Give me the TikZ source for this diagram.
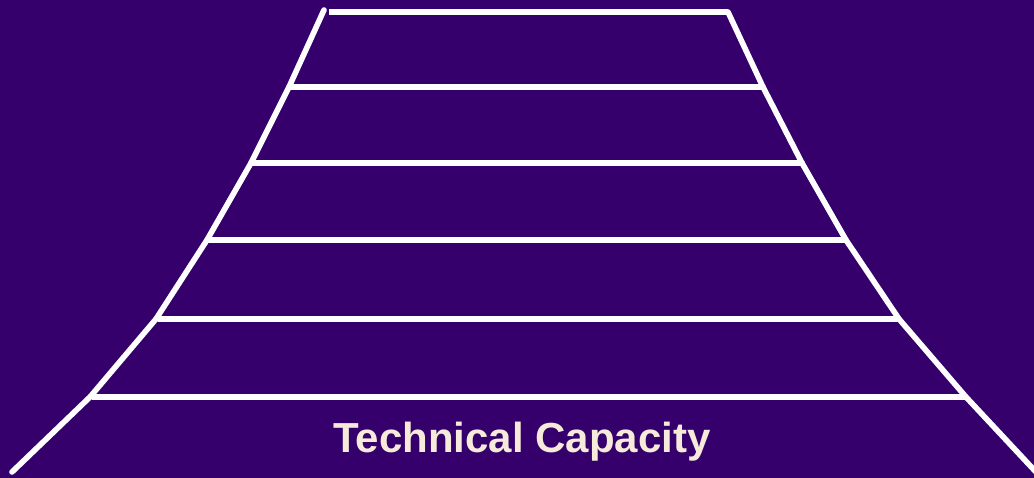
\documentclass[tikz,border=0pt]{standalone}
\usepackage{fontspec}
\setmainfont{Liberation Sans}
\definecolor{bgpurple}{RGB}{53,0,107}
\definecolor{cream}{RGB}{246,235,218}
\begin{document}
\begin{tikzpicture}[x=1pt,y=-1pt,
  edge/.style={draw=white,line width=5.6pt,line cap=round},
  rung/.style={draw=white,line width=5.6pt}]
\fill[bgpurple] (0,0) rectangle (1034,478);
\useasboundingbox (0,0) rectangle (1034,478);
% left corners
\coordinate (L0) at (324,10);
\coordinate (L1) at (289,87);
\coordinate (L2) at (251,163);
\coordinate (L3) at (207,240);
\coordinate (L4) at (156,319);
\coordinate (L5) at (90,397);
\coordinate (L6) at (12,472);
% right corners
\coordinate (R0) at (728,12);
\coordinate (R1) at (763,87);
\coordinate (R2) at (802,163);
\coordinate (R3) at (846,240);
\coordinate (R4) at (899,319);
\coordinate (R5) at (966,397);
\coordinate (R6) at (1036,472);
% rungs
\coordinate (T0) at (329,12);
\draw[rung] (T0) -- (R0);
\draw[rung] (L1) -- (R1);
\draw[rung] (L2) -- (R2);
\draw[rung] (L3) -- (R3);
\coordinate (T4) at (158,319);
\draw[rung] (T4) -- (R4);
\coordinate (T5) at (92,397);
\draw[rung] (T5) -- (R5);
% sides
\draw[edge] (L0) -- (L1);
\draw[edge] (L1) -- (L2);
\draw[edge] (L2) -- (L3);
\draw[edge] (L3) -- (L4);
\draw[edge] (L4) -- (L5);
\draw[edge] (L5) -- (L6);
\draw[edge] (R0) -- (R1);
\draw[edge] (R1) -- (R2);
\draw[edge] (R2) -- (R3);
\draw[edge] (R3) -- (R4);
\draw[edge] (R4) -- (R5);
\draw[edge] (R5) -- (R6);
\node[text=cream,font=\fontsize{42}{42}\selectfont\bfseries,anchor=base] (title) at (522,452) {Technical Capacity};
\end{tikzpicture}
\end{document}
